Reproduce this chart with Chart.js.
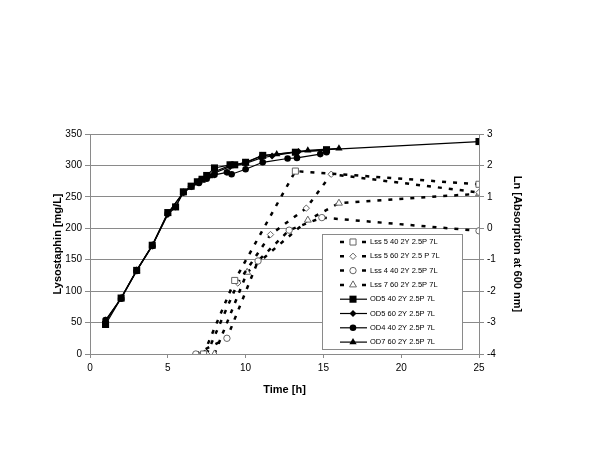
<!DOCTYPE html>
<html>
<head>
<meta charset="utf-8">
<script src="https://cdn.jsdelivr.net/npm/chart.js@4/dist/chart.umd.min.js"></script>
<style>
  html, body { margin: 0; padding: 0; background: #fff; }
  #wrap { width: 600px; height: 450px; position: relative; }
</style>
</head>
<body>
<div id="wrap"><canvas id="chart" width="600" height="450"></canvas></div>
<script>
// Lysostaphin [mg/L] (left axis, dashed series)
const lss540T = [7.3, 9.3, 13.2, 25];
const lss540Y = [0, 117, 291, 270];
const lss560T = [7.5, 9.5, 11.6, 13.9, 15.5, 25];
const lss560Y = [0, 113, 190, 232, 286, 257];
const lss440T = [6.8, 8.8, 10.8, 12.8, 14.9, 25];
const lss440Y = [0, 25, 148, 197, 217, 196];
const lss760T = [8.0, 10.1, 14.0, 16.0, 25];
const lss760Y = [0, 130, 213, 240, 255];

// Ln [Absorption at 600 nm] (right axis, solid series)
const od540T = [1, 2, 3, 4, 5, 5.5, 6, 6.5, 6.9, 7.2, 7.5, 8, 9, 9.3, 10, 11.1, 13.2, 15.2, 25];
const od540Y = [-3.06, -2.22, -1.34, -0.54, 0.5, 0.68, 1.16, 1.34, 1.48, 1.56, 1.68, 1.92, 2.02, 2.02, 2.1, 2.32, 2.42, 2.5, 2.76];
const od560T = [1, 2, 3, 4, 5, 5.5, 6, 6.5, 7, 7.5, 8, 9, 10, 11, 11.7, 13.4, 15.2];
const od560Y = [-2.98, -2.22, -1.34, -0.56, 0.44, 0.68, 1.14, 1.32, 1.48, 1.62, 1.76, 1.96, 2.06, 2.24, 2.3, 2.44, 2.48];
const od440T = [1, 2, 3, 4, 5, 6, 6.5, 7, 7.5, 8, 8.8, 9.1, 10, 11.1, 12.7, 13.3, 14.8, 15.2];
const od440Y = [-2.92, -2.24, -1.36, -0.56, 0.48, 1.14, 1.32, 1.44, 1.58, 1.7, 1.78, 1.72, 1.88, 2.1, 2.22, 2.24, 2.36, 2.42];
const od760T = [1, 2, 3, 4, 5, 6, 7, 7.7, 8, 9, 10, 11, 12, 14, 16];
const od760Y = [-2.94, -2.22, -1.34, -0.54, 0.46, 1.14, 1.48, 1.66, 1.8, 2.0, 2.08, 2.3, 2.36, 2.48, 2.54];

const seriesLabels = [
  'Lss 5 40 2Y 2.5P 7L', 'Lss 5 60 2Y 2.5 P 7L', 'Lss 4 40 2Y 2.5P 7L', 'Lss 7 60 2Y 2.5P 7L',
  'OD5 40 2Y 2.5P 7L', 'OD5 60 2Y 2.5P 7L', 'OD4 40 2Y 2.5P 7L', 'OD7 60 2Y 2.5P 7L'
];

const FONT = "'Liberation Sans', Arial, sans-serif";
const GRID = '#8a8a8a';

function pts(xs, ys) {
  return xs.map((x, i) => ({ x: x, y: ys[i] }));
}

function dashed(label, xs, ys, style, radius) {
  return {
    label: label, data: pts(xs, ys), yAxisID: 'y', showLine: true,
    borderColor: '#000', borderWidth: 2.5, borderDash: [4, 7],
    pointStyle: style, pointRadius: radius, pointBorderWidth: 1,
    pointBackgroundColor: '#fff', pointBorderColor: '#666'
  };
}

function solid(label, xs, ys, style, radius) {
  return {
    label: label, data: pts(xs, ys), yAxisID: 'y1', showLine: true,
    borderColor: '#000', borderWidth: 1.2,
    pointStyle: style, pointRadius: radius, pointBorderWidth: 0,
    pointBackgroundColor: '#000', pointBorderColor: '#000'
  };
}

const datasets = [
  dashed(seriesLabels[0], lss540T, lss540Y, 'rect', 4.3),
  dashed(seriesLabels[1], lss560T, lss560Y, 'rectRot', 3.2),
  dashed(seriesLabels[2], lss440T, lss440Y, 'circle', 3.2),
  dashed(seriesLabels[3], lss760T, lss760Y, 'triangle', 4),
  solid(seriesLabels[4], od540T, od540Y, 'rect', 5),
  solid(seriesLabels[5], od560T, od560Y, 'rectRot', 3.5),
  solid(seriesLabels[6], od440T, od440Y, 'circle', 3.3),
  solid(seriesLabels[7], od760T, od760Y, 'triangle', 4.2)
];

// legend box drawn inside the plot, like the original
const boxLegend = {
  id: 'boxLegend',
  afterDraw: function(chart) {
    const ctx = chart.ctx;
    const left = 322, top = 234, w = 140, h = 115;
    ctx.save();
    ctx.fillStyle = '#fff';
    ctx.fillRect(left, top, w, h);
    ctx.strokeStyle = GRID;
    ctx.lineWidth = 1;
    ctx.strokeRect(left + 0.5, top + 0.5, w, h);
    chart.data.datasets.forEach(function(ds, i) {
      const y = top + 8 + i * 14.3;
      ctx.strokeStyle = ds.borderColor;
      ctx.lineWidth = ds.borderWidth;
      ctx.setLineDash(ds.borderDash || []);
      ctx.beginPath();
      ctx.moveTo(340, y);
      ctx.lineTo(367, y);
      ctx.stroke();
      ctx.setLineDash([]);
      ctx.fillStyle = ds.pointBackgroundColor;
      ctx.strokeStyle = ds.pointBorderColor;
      ctx.lineWidth = ds.pointBorderWidth;
      Chart.helpers.drawPoint(ctx, {
        pointStyle: ds.pointStyle, radius: ds.pointRadius, rotation: 0,
        borderWidth: ds.pointBorderWidth
      }, 353, y);
      ctx.fillStyle = '#000';
      ctx.font = '7.5px ' + FONT;
      ctx.textBaseline = 'middle';
      ctx.textAlign = 'left';
      ctx.fillText(ds.label, 370, y);
    });
    ctx.restore();
  }
};

new Chart(document.getElementById('chart'), {
  type: 'scatter',
  data: { datasets: datasets },
  options: {
    responsive: false,
    animation: false,
    layout: { padding: { left: 0, right: 0, top: 134, bottom: 0 } },
    plugins: { legend: { display: false }, tooltip: { enabled: false } },
    scales: {
      x: {
        type: 'linear', min: 0, max: 25,
        afterFit: function(s) { s.height = 96; },
        border: { color: GRID, width: 1 },
        grid: { drawOnChartArea: false, color: GRID, tickLength: 4 },
        ticks: { stepSize: 5, padding: 4, color: '#000', font: { family: FONT, size: 10 } },
        title: {
          display: true, text: 'Time [h]', color: '#000',
          font: { family: FONT, size: 11, weight: 'bold' }, padding: { top: 0, bottom: 53 }
        }
      },
      y: {
        position: 'left', min: 0, max: 350,
        afterFit: function(s) { s.width = 90; },
        border: { color: GRID, width: 1 },
        grid: { color: GRID, lineWidth: 1, tickLength: 5 },
        ticks: { stepSize: 50, padding: 3, color: '#000', font: { family: FONT, size: 10 } },
        title: {
          display: true, text: 'Lysostaphin [mg/L]', color: '#000',
          font: { family: FONT, size: 11, weight: 'bold' }, padding: { top: 51, bottom: 0 }
        }
      },
      y1: {
        position: 'right', min: -4, max: 3,
        afterFit: function(s) { s.width = 121; },
        border: { color: GRID, width: 1 },
        grid: { drawOnChartArea: false, color: GRID, tickLength: 5 },
        ticks: { stepSize: 1, padding: 3, color: '#000', font: { family: FONT, size: 10 } },
        title: {
          display: true, text: 'Ln [Absorption at 600 nm]', color: '#000',
          font: { family: FONT, size: 11, weight: 'bold' }, padding: { top: 76, bottom: 0 }
        }
      }
    }
  },
  plugins: [boxLegend]
});
</script>
</body>
</html>
